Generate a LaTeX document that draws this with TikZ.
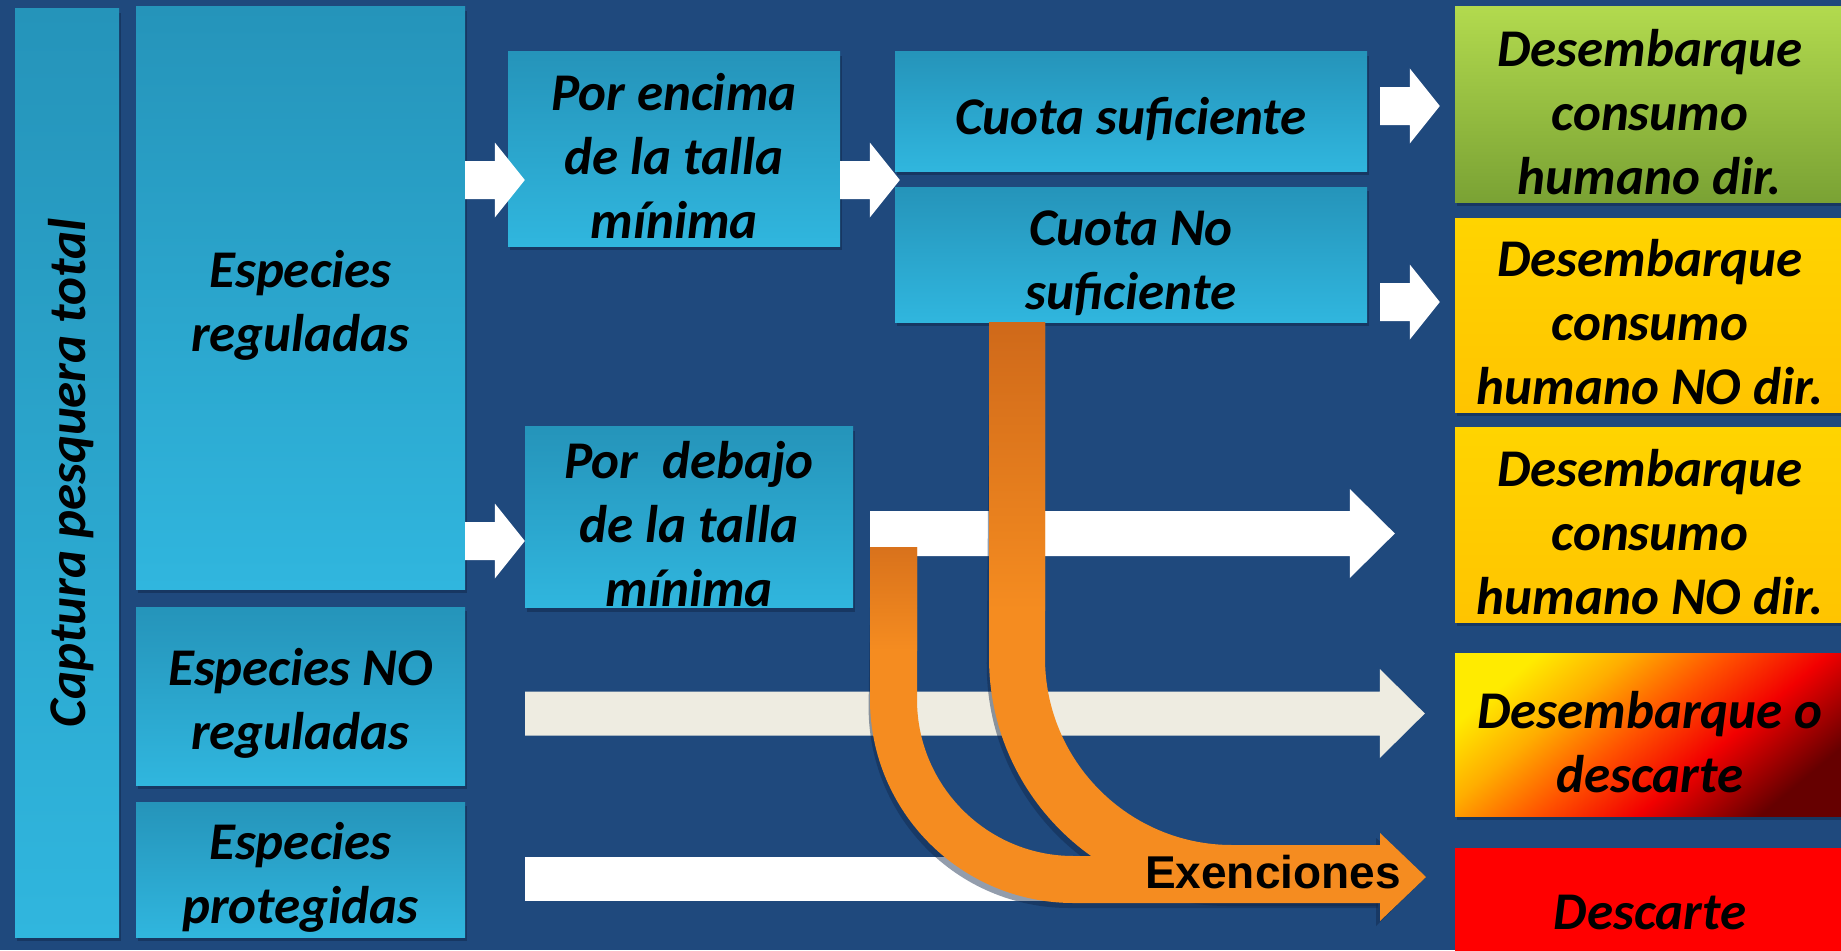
\documentclass[tikz,border=0pt]{standalone}
\usepackage{fontspec}
\usepackage{graphicx}
\newfontfamily\calib{Carlito}
\newfontfamily\arialf{Liberation Sans}
\usetikzlibrary{calc,shadows}
\definecolor{bg}{RGB}{31,73,125}
\definecolor{cyTop}{RGB}{37,148,186}
\definecolor{cyBot}{RGB}{48,182,222}
\definecolor{cream}{RGB}{238,236,225}
\definecolor{org}{RGB}{245,140,32}
\definecolor{orgD}{RGB}{207,105,26}
\definecolor{grTop}{RGB}{178,218,78}
\definecolor{grBot}{RGB}{122,162,52}
\definecolor{ylTop}{RGB}{255,212,0}
\definecolor{ylBot}{RGB}{255,196,0}
\definecolor{shd}{RGB}{16,38,72}
\pgfdeclarehorizontalshading{firegrad}{100bp}{rgb(0bp)=(1,0.92,0); rgb(25bp)=(1,0.92,0); rgb(36bp)=(1,0.68,0); rgb(48bp)=(1,0.32,0); rgb(60bp)=(0.95,0,0); rgb(75bp)=(0.40,0,0); rgb(100bp)=(0.40,0,0)}
\newcommand{\blockarr}[6]{%
  \fill[#6] let \p1=(#1), \p2=(#2) in
    (\x1,\y1+#3) -- (\x2-#5,\y1+#3) -- (\x2-#5,\y1+#4) -- (\x2,\y1)
    -- (\x2-#5,\y1-#4) -- (\x2-#5,\y1-#3) -- (\x1,\y1-#3) -- cycle;}
\tikzset{
  boxbase/.style={rectangle, inner sep=0pt, align=center, text=black,
     font=\calib\bfseries\itshape\fontsize{53pt}{64pt}\selectfont,
     drop shadow={shadow xshift=2pt, shadow yshift=-4pt, opacity=0.5, fill=shd}},
  cybox/.style={boxbase, top color=cyTop, bottom color=cyBot},
  grbox/.style={boxbase, top color=grTop, bottom color=grBot},
  ylbox/.style={boxbase, top color=ylTop, bottom color=ylBot},
  firebox/.style={boxbase, shade, shading=firegrad, shading angle=-50},
  rdbox/.style={boxbase, fill=red},
  exlabel/.style={font=\arialf\bfseries\fontsize{46pt}{50pt}\selectfont, inner sep=0pt, text=black},
}
\begin{document}
\begin{tikzpicture}[x=1pt,y=-1pt]
\useasboundingbox (0,0) rectangle (1841,950);
\fill[bg] (0,0) rectangle (1841,950);
% left column boxes
\node[cybox, minimum width=104pt, minimum height=928pt] (cap) at (67,473) {\hspace*{8pt}\rotatebox{90}{Captura pesquera total}};
\node[cybox, minimum width=329pt, minimum height=582pt] (reg) at (300.5,298) {\rule{0pt}{52pt}Especies\\reguladas};
\node[cybox, minimum width=329pt, minimum height=178pt] (noreg) at (300.5,696) {\rule{0pt}{52pt}Especies NO\\reguladas};
\node[cybox, minimum width=329pt, minimum height=135pt] (prot) at (300.5,869.5) {\rule{0pt}{52pt}Especies\\protegidas};
% middle boxes
\node[cybox, minimum width=332pt, minimum height=194pt] (enc) at (674,149) {\rule{0pt}{52pt}Por encima\\de la talla\\mínima};
\node[cybox, minimum width=328pt, minimum height=181pt] (deb) at (689,517) {\rule{0pt}{52pt}Por\ \ debajo\\de la talla\\mínima};
\node[cybox, minimum width=472pt, minimum height=119pt] (cs) at (1131,111.5) {\rule{0pt}{52pt}Cuota suficiente};
\node[cybox, minimum width=472pt, minimum height=135pt] (cns) at (1131,254.5) {\rule{0pt}{52pt}Cuota No\\suficiente};
% right boxes
\node[grbox, minimum width=390pt, minimum height=195pt] (r1) at (1650,104.5) {\rule{0pt}{52pt}Desembarque\\consumo\\humano dir.};
\node[ylbox, minimum width=390pt, minimum height=194pt] (r2) at (1650,315) {\rule{0pt}{52pt}Desembarque\\consumo\\humano NO dir.};
\node[ylbox, minimum width=390pt, minimum height=195pt] (r3) at (1650,524.5) {\rule{0pt}{52pt}Desembarque\\consumo\\humano NO dir.};
\node[firebox, minimum width=390pt, minimum height=163pt] (r4) at (1650,734.5) {\rule{0pt}{52pt}Desembarque o\\descarte};
\node[rdbox, minimum width=390pt, minimum height=112pt] (r5) at (1650,904) {\rule{0pt}{52pt}Descarte};
% level coordinates
\coordinate (y180) at (0,180);
\coordinate (y107) at (0,106);
\coordinate (y302) at (0,302);
\coordinate (y541) at (0,541);
\coordinate (y533) at (0,533.5);
\coordinate (y714) at (0,713.5);
\coordinate (y879) at (0,879);
% white block arrows
\blockarr{reg.east |- y180}{$(enc.west |- y180)+(17,0)$}{19pt}{37.5pt}{30pt}{white}
\blockarr{enc.east |- y180}{$(cs.west |- y180)+(5,0)$}{19pt}{37.5pt}{30pt}{white}
\blockarr{$(cs.east |- y107)+(13,0)$}{$(r1.west |- y107)+(-15,0)$}{19pt}{37.5pt}{30pt}{white}
\blockarr{$(cns.east |- y302)+(13,0)$}{$(r2.west |- y302)+(-15,0)$}{19pt}{37.5pt}{30pt}{white}
\blockarr{reg.east |- y541}{deb.west |- y541}{19pt}{37.5pt}{30pt}{white}
\blockarr{$(deb.east |- y533)+(17,0)$}{$(r3.west |- y533)+(-60,0)$}{22.5pt}{44.5pt}{45pt}{white}
\blockarr{$(noreg.east |- y714)+(60,0)$}{$(r4.west |- y714)+(-30,0)$}{22pt}{44.5pt}{45pt}{cream}
\fill[white] ($(prot.east |- y879)+(60,-22)$) rectangle (1150,901);
% Exenciones orange arrows
\coordinate (b1s) at (893.5,547);
\coordinate (exe) at (1426,877);
\begin{scope}[xshift=-4pt,yshift=-5pt,opacity=0.45]
  \draw[shd, line width=47pt, rounded corners=180pt] ($(b1s)+(0,60)$) -- (893.5,879.5) -- (1382,879.5);
  \draw[shd, line width=56pt, rounded corners=215pt] ($(cns.south)+(-114,60)$) -- (1017,873) -- (1382,873);
  \fill[shd] (1380,833) -- (exe) -- (1380,921) -- cycle;
\end{scope}
\draw[org, line width=47pt, rounded corners=180pt] (b1s) -- (893.5,879.5) -- (1382,879.5);
\draw[org, line width=56pt, rounded corners=215pt] ($(cns.south)+(-114,0)$) -- (1017,873) -- (1382,873);
\fill[org] (1380,833) -- (exe) -- (1380,921) -- cycle;
\shade[top color=orgD, bottom color=org] ($(cns.south)+(-142,0)$) rectangle (1045,610);
\shade[top color=orgD!75!org, bottom color=org] (870,547) rectangle (917,650);
\node[exlabel, anchor=base east] (exn) at (1401,888) {Exenciones};
\end{tikzpicture}
\end{document}
